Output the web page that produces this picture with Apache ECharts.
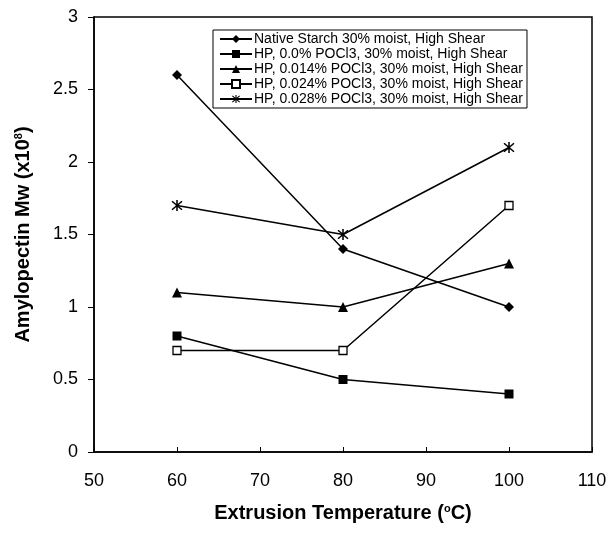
<!DOCTYPE html>
<html>
<head>
<meta charset="utf-8">
<script src="https://cdn.jsdelivr.net/npm/echarts@6/dist/echarts.min.js"></script>
<style>
  html, body { margin: 0; padding: 0; background: #fff; }
  #chart { width: 610px; height: 537px; }
</style>
</head>
<body>
<div id="chart"></div>
<script>
// Extrusion temperatures (°C)
const temperatures = [60, 80, 100];

// Amylopectin Mw (x10^8) for each sample
const nativeStarch = [2.6, 1.4, 1.0];
const hp000 = [0.8, 0.5, 0.4];
const hp014 = [1.1, 1.0, 1.3];
const hp024 = [0.7, 0.7, 1.7];
const hp028 = [1.7, 1.5, 2.1];

const seriesNames = [
  'Native Starch 30% moist, High Shear',
  'HP, 0.0% POCl3, 30% moist, High Shear',
  'HP, 0.014% POCl3, 30% moist, High Shear',
  'HP, 0.024% POCl3, 30% moist, High Shear',
  'HP, 0.028% POCl3, 30% moist, High Shear'
];

// Asterisk marker: an X crossed by a vertical bar
const asterisk = 'path://M-0.6,-5 L0.6,-5 L0.6,5 L-0.6,5 Z M-4.3,-3.5 L-3.5,-4.3 L4.3,3.5 L3.5,4.3 Z M3.5,-4.3 L4.3,-3.5 L-3.5,4.3 L-4.3,3.5 Z';

function pairs(vals) { return temperatures.map((t, i) => [t, vals[i]]); }

const font = '"Liberation Sans", Arial, sans-serif';

function mkSeries(name, vals, symbol, size, filled) {
  return {
    name: name,
    type: 'line',
    data: pairs(vals),
    symbol: symbol,
    symbolSize: size,
    showAllSymbol: true,
    lineStyle: { color: '#000', width: 1.5 },
    itemStyle: filled
      ? { color: '#000', borderColor: '#000', borderWidth: 0 }
      : { color: '#fff', borderColor: '#000', borderWidth: 1.3 },
    emphasis: { disabled: true },
    z: 3
  };
}

const titleRich = {
  t: { fontFamily: font, fontSize: 20, fontWeight: 'bold', color: '#000' },
  s: { fontFamily: font, fontSize: 11, fontWeight: 'bold', color: '#000', verticalAlign: 'top', padding: [0, 0, 9, 0] }
};

const chart = echarts.init(document.getElementById('chart'), null, { renderer: 'canvas' });
chart.setOption({
  animation: false,
  backgroundColor: '#fff',
  grid: { left: 94, right: 18, top: 17, bottom: 85, show: true, borderColor: '#000', borderWidth: 1.5 },
  legend: {
    orient: 'vertical',
    left: 213,
    top: 30,
    padding: [2, 4, 2, 6],
    itemGap: 1,
    itemWidth: 32,
    itemHeight: 10,
    backgroundColor: '#fff',
    borderColor: '#000',
    borderWidth: 1,
    textStyle: { fontFamily: font, fontSize: 14, color: '#000', padding: [0, 0, 0, -3] },
    data: seriesNames
  },
  xAxis: {
    type: 'value',
    min: 50, max: 110, interval: 10,
    axisLine: { show: true, lineStyle: { color: '#000', width: 1.5 } },
    axisTick: { show: true, inside: true, length: 5, lineStyle: { color: '#000' } },
    axisLabel: { fontFamily: font, fontSize: 18, color: '#000', margin: 20 },
    splitLine: { show: false },
    name: '{t|Extrusion Temperature (}{s|o}{t|C)}',
    nameLocation: 'middle',
    nameGap: 51,
    nameTextStyle: { rich: titleRich }
  },
  yAxis: {
    type: 'value',
    min: 0, max: 3, interval: 0.5,
    axisLine: { show: true, lineStyle: { color: '#000', width: 1.5 } },
    axisTick: { show: true, inside: false, length: 6, lineStyle: { color: '#000' } },
    axisLabel: { fontFamily: font, fontSize: 18, color: '#000', margin: 16 },
    splitLine: { show: false },
    name: '{t|Amylopectin Mw (x10}{s|8}{t|)}',
    nameLocation: 'middle',
    nameGap: 61,
    nameRotate: 90,
    nameTextStyle: { rich: titleRich }
  },
  series: [
    mkSeries(seriesNames[0], nativeStarch, 'diamond', 10, true),
    mkSeries(seriesNames[1], hp000, 'rect', 9, true),
    mkSeries(seriesNames[2], hp014, 'triangle', 10, true),
    mkSeries(seriesNames[3], hp024, 'rect', 8, false),
    mkSeries(seriesNames[4], hp028, asterisk, 11, true)
  ]
});
</script>
</body>
</html>
